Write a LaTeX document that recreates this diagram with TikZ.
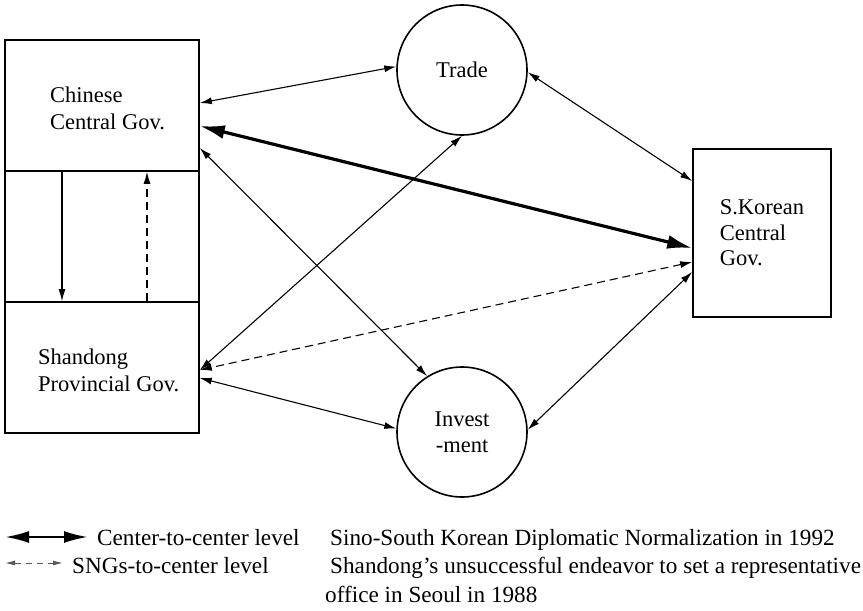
\documentclass[tikz,border=0pt]{standalone}
\usepackage{fontspec}
\setmainfont{Liberation Serif}
\usepackage{tikz}
\usetikzlibrary{arrows.meta,calc,positioning}

\tikzset{
  tipS/.tip={Latex[length=12pt,width=7pt]},
  tipL/.tip={Latex[length=25pt,width=14pt]},
  gov/.style={draw, line width=1.6pt, minimum width=194pt, minimum height=131pt, inner sep=0pt},
  topic/.style={draw, circle, line width=1.6pt, minimum size=130pt, inner sep=0pt,
    font=\fontsize{22.5}{26}\selectfont, align=center},
  lbl/.style={inner sep=0pt, font=\fontsize{22.5}{27}\selectfont, align=left},
  leg/.style={inner sep=0pt, font=\fontsize{23.2}{29}\selectfont},
  link/.style={line width=1.1pt, tipS-tipS},
  main/.style={line width=3.2pt, tipL-tipL},
  sng/.style={link, dash pattern=on 8pt off 5pt},
}

\begin{document}
\begin{tikzpicture}[x=1pt,y=-1pt]
        \useasboundingbox (0,0) rectangle (863,611);

        % governments
        \node[gov] (cgov) at (102,105.5) {};
        \node[gov] (mid) at (102,236.5) {};
        \node[gov] (sgov) at (102,367.5) {};
        \node[lbl, anchor=west] (ctxt) at (50,108) {Chinese\\Central Gov.};
        \node[lbl, anchor=west] (stxt) at (38,370) {Shandong\\Provincial Gov.};
        \node[draw, line width=1.6pt, minimum width=138pt, minimum height=168pt,
              lbl, font=\fontsize{22.5}{25.5}\selectfont] (kgov) at (762,233) {S.Korean\\Central\\Gov.};

        % fields
        \node[topic] (trade) at (462,70) {Trade};
        \node[topic] (inv) at (462,432) {Invest\\-ment};

        % inside China
        \draw[line width=1.1pt, -tipS] ([xshift=-40pt]cgov.south) -- ([xshift=-40pt]sgov.north);
        \draw[sng, -tipS] ([xshift=45pt]sgov.north) -- ([xshift=45pt]cgov.south);

        % links
        \draw[link] ([yshift=2.5pt]cgov.east) -- (trade.177);
        \draw[main] ([yshift=-20.5pt]cgov.east) -- ([yshift=-15pt]kgov.west);
        \draw[link] ([yshift=-42.5pt]cgov.east) -- (inv.122);
        \draw[link] (trade.-2) -- ([yshift=52pt]kgov.west);
        \draw[link] (trade.south) -- ([yshift=-2.5pt]sgov.east);
        \draw[sng] ([yshift=-29pt]kgov.west) -- ([yshift=-2.5pt]sgov.east);
        \draw[link] ([yshift=-10.5pt]sgov.east) -- (inv.177);
        \draw[link] (inv.2) -- ([yshift=-39pt]kgov.west);

        % legend
        \coordinate (lg1a) at (5,537);
        \coordinate (lg1b) at (88,537);
        \draw[line width=2.4pt, {Latex[length=24pt,width=12pt]}-{Latex[length=24pt,width=12pt]}] (lg1a) -- (lg1b);
        \node[leg, anchor=base west] (lvl1) at (97,545) {Center-to-center level};
        \node[leg, anchor=base west] (note1) at (330,545) {Sino-South Korean Diplomatic Normalization in 1992};

        \coordinate (lg2a) at (5,563);
        \coordinate (lg2b) at (63,563);
        \draw[black!65, line width=1pt, dash pattern=on 6pt off 5pt,
              {Latex[length=10pt,width=5pt]}-{Latex[length=10pt,width=5pt]}] (lg2a) -- (lg2b);
        \node[leg, anchor=base west] (lvl2) at (72,573) {SNGs-to-center level};
        \node[leg, anchor=base west] (note2) at (330,573) {Shandong’s unsuccessful endeavor to set a representative};
        \node[leg, anchor=base west] (note3) at (325,602) {office in Seoul in 1988};

      \end{tikzpicture}
\end{document}
